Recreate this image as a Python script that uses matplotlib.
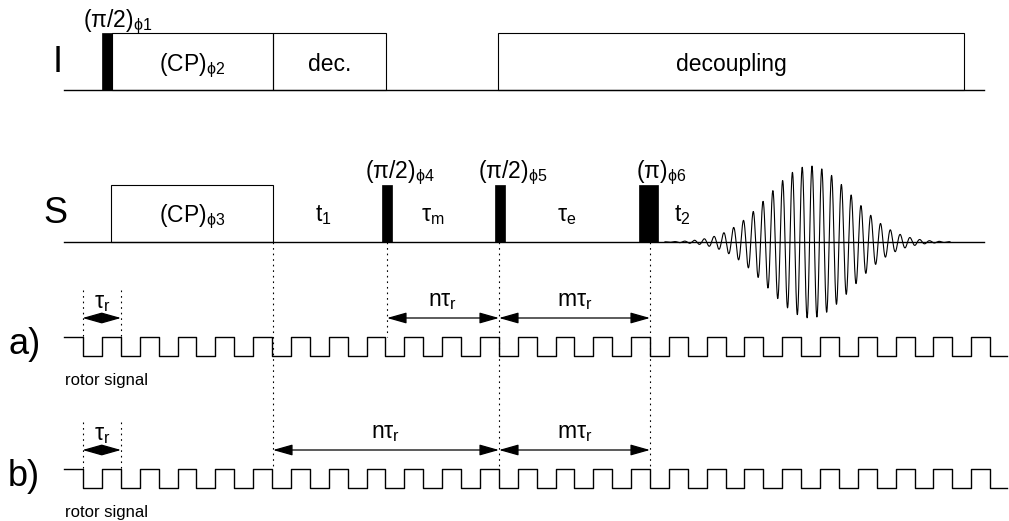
import numpy as np
import matplotlib
matplotlib.use("Agg")
import matplotlib.pyplot as plt
from matplotlib.patches import Rectangle

plt.rcParams["font.family"] = ["Liberation Sans", "DejaVu Sans"]
plt.rcParams["mathtext.fontset"] = "custom"
plt.rcParams["mathtext.rm"] = "Liberation Sans"
plt.rcParams["mathtext.it"] = "Liberation Sans:italic"
plt.rcParams["mathtext.bf"] = "Liberation Sans:bold"

# timing of the sequence (x in drawing units)
line_x = [64, 984]

# I channel
i_pulse = [102, 112]
i_boxes = [[112, 273], [273, 386], [498, 964]]
i_box_labels = ["(CP)$_{\\mathrm{\\phi2}}$", "dec.", "decoupling"]

# S channel
s_cp = [111, 273]
s_cp_label = "(CP)$_{\\mathrm{\\phi3}}$"
s_pulses = [[382, 392], [495, 505], [639, 658]]
s_pulse_labels = ["(π/2)$_{\\mathrm{\\phi4}}$", "(π/2)$_{\\mathrm{\\phi5}}$", "(π)$_{\\mathrm{\\phi6}}$"]
s_delay_x = [323, 433, 567, 682]
s_delay_labels = ["t$_{\\mathrm{1}}$", "τ$_{\\mathrm{m}}$", "τ$_{\\mathrm{e}}$", "t$_{\\mathrm{2}}$"]

# detected echo (gaussian-shaped envelope)
echo_start, echo_stop = 665, 950
echo_center = 810
echo_width = 42
echo_amp = 76
echo_period = 9.8

# rotor signal
rotor_first_edge = 83
rotor_period = 37.8
rotor_end = 1007

# synchronisation markers (pulse positions on rotor edges)
sync_x = [273, 387, 499, 650]
sync_bottom = ["b", "a", "b", "b"]
tau_r = [82.5, 121]
a_spans = [[387, 499, "nτ$_{\\mathrm{r}}$"], [499, 650, "mτ$_{\\mathrm{r}}$"]]
b_spans = [[273, 499, "nτ$_{\\mathrm{r}}$"], [499, 650, "mτ$_{\\mathrm{r}}$"]]

# vertical levels
i_base, i_top = 90, 33
s_base, s_top = 242, 185
rows = {"a": dict(hi=337, lo=356, arrow=318, label=303),
        "b": dict(hi=469, lo=488, arrow=450, label=435)}

fig = plt.figure(figsize=(10.09, 5.21), dpi=100)
ax = fig.add_axes([0, 0, 1, 1])
ax.set_xlim(0, 1009)
ax.set_ylim(521, 0)
ax.axis("off")

mid = 16.5
big = 26

# ---- I channel ----
ax.plot(line_x, [i_base, i_base], color="k", lw=1.0)
ax.add_patch(Rectangle((i_pulse[0], i_top), i_pulse[1] - i_pulse[0], i_base - i_top,
                       facecolor="k", edgecolor="k", lw=0.5))
for (x0, x1), lab in zip(i_boxes, i_box_labels):
    ax.add_patch(Rectangle((x0, i_top), x1 - x0, i_base - i_top,
                           facecolor="none", edgecolor="k", lw=0.8))
    ax.text((x0 + x1) / 2, 71, lab, ha="center", va="baseline", fontsize=mid)
ax.text(58, 72, "I", ha="center", va="baseline", fontsize=big)
ax.text(83, 27, "(π/2)$_{\\mathrm{\\phi1}}$", ha="left", va="baseline", fontsize=mid)

# ---- S channel ----
ax.plot(line_x, [s_base, s_base], color="k", lw=1.0)
ax.add_patch(Rectangle((s_cp[0], s_top), s_cp[1] - s_cp[0], s_base - s_top,
                       facecolor="none", edgecolor="k", lw=0.8))
ax.text((s_cp[0] + s_cp[1]) / 2, 222, s_cp_label, ha="center", va="baseline", fontsize=mid)
for (x0, x1), lab in zip(s_pulses, s_pulse_labels):
    ax.add_patch(Rectangle((x0, s_top), x1 - x0, s_base - s_top,
                           facecolor="k", edgecolor="k", lw=0.5))
    ax.text((x0 + x1) / 2 + 13, 178, lab, ha="center", va="baseline", fontsize=mid)
for x, lab in zip(s_delay_x, s_delay_labels):
    ax.text(x, 221, lab, ha="center", va="baseline", fontsize=mid)
ax.text(55, 223, "S", ha="center", va="baseline", fontsize=big)

fx = np.linspace(echo_start, echo_stop, 3000)
env = echo_amp * np.exp(-0.5 * ((fx - echo_center) / echo_width) ** 2)
fy = s_base - env * np.cos(2 * np.pi * (fx - 812) / echo_period)
ax.plot(fx, fy, color="k", lw=0.8)

# ---- rotor signals ----
def rotor_trace(hi, lo):
    xs, ys = [line_x[0]], [hi]
    x = rotor_first_edge
    while x < rotor_end:
        xs += [x, x]
        ys += [hi, lo]
        up = x + rotor_period / 2
        if up < rotor_end:
            xs += [up, up]
            ys += [lo, hi]
        x += rotor_period
    xs.append(rotor_end)
    ys.append(ys[-1])
    return xs, ys

arrow_kw = dict(arrowstyle="<|-|>,head_length=0.6,head_width=0.17", color="k",
                lw=0.9, shrinkA=0, shrinkB=0, mutation_scale=20)

for key, spans in (("a", a_spans), ("b", b_spans)):
    r = rows[key]
    xs, ys = rotor_trace(r["hi"], r["lo"])
    ax.plot(xs, ys, color="k", lw=1.0)
    ax.text(8, r["lo"] - 2, key + ")", ha="left", va="baseline", fontsize=big)
    ax.text(65, r["lo"] + 29, "rotor signal", ha="left", va="baseline", fontsize=12)
    # tau_r marker
    for x in tau_r:
        ax.plot([x, x], [r["arrow"] - 28, r["hi"]], color="k", lw=0.8, dashes=(1.5, 3.5))
    ax.annotate("", xy=(tau_r[1], r["arrow"]), xytext=(tau_r[0], r["arrow"]), arrowprops=arrow_kw)
    ax.text(sum(tau_r) / 2, r["label"] + 5, "τ$_{\\mathrm{r}}$", ha="center", va="baseline", fontsize=mid)
    for x0, x1, lab in spans:
        ax.annotate("", xy=(x1, r["arrow"]), xytext=(x0, r["arrow"]), arrowprops=arrow_kw)
        ax.text((x0 + x1) / 2, r["label"] + 3, lab, ha="center", va="baseline", fontsize=mid)

for x, bottom in zip(sync_x, sync_bottom):
    ax.plot([x, x], [s_base, rows[bottom]["hi"]], color="k", lw=0.8, dashes=(1.5, 3.5))

fig.savefig("out.png", dpi=100)
